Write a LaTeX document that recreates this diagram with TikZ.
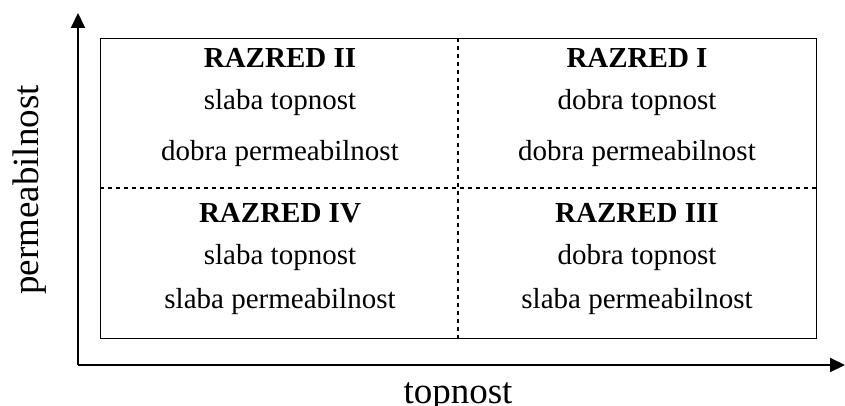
\documentclass[tikz,border=0pt]{standalone}
\usepackage{fontspec}
\setmainfont{Liberation Serif}
\usetikzlibrary{arrows.meta}
\begin{document}
\begin{tikzpicture}[x=1pt,y=1pt,
  cell/.style={font=\fontsize{29}{34}\selectfont, inner sep=0pt, anchor=center},
  head/.style={cell, font=\fontsize{29}{34}\selectfont\bfseries},
  axislabel/.style={font=\fontsize{37}{44}\selectfont, inner sep=0pt},
  axisline/.style={line width=2pt, -{Triangle[length=15pt,width=14pt]}},
  divider/.style={line width=2.6pt, dash pattern=on 4pt off 4pt}]
\useasboundingbox (0,0) rectangle (845,405);
% axes
\coordinate (O) at (78,40);
\coordinate (ytip) at (78,392);
\coordinate (xtip) at (845,40);
\draw[axisline] (O) -- (ytip);
\draw[axisline] (O) -- (xtip);
% frame of the four classes
\node[draw, line width=1pt, minimum width=716pt, minimum height=299pt, inner sep=0pt] (frame) at (458,216.5) {};
\draw[divider] (frame.west |- 0,217) -- (frame.east |- 0,217);
\draw[divider] (frame.north) -- (frame.south);
% upper left
\node[head] (h2) at (280,347) {RAZRED II};
\node[cell] (a2) at (280,302) {slaba topnost};
\node[cell] (b2) at (280,251) {dobra permeabilnost};
% upper right
\node[head] (h1) at (637,347) {RAZRED I};
\node[cell] (a1) at (637,302) {dobra topnost};
\node[cell] (b1) at (637,251) {dobra permeabilnost};
% lower left
\node[head] (h4) at (280,192) {RAZRED IV};
\node[cell] (a4) at (280,147) {slaba topnost};
\node[cell] (b4) at (280,103) {slaba permeabilnost};
% lower right
\node[head] (h3) at (637,192) {RAZRED III};
\node[cell] (a3) at (637,147) {dobra topnost};
\node[cell] (b3) at (637,103) {slaba permeabilnost};
% axis titles
\node[axislabel, rotate=90] (ylab) at (30,215) {permeabilnost};
\node[axislabel, anchor=base] (xlab) at (458,2) {topnost};
\end{tikzpicture}
\end{document}
